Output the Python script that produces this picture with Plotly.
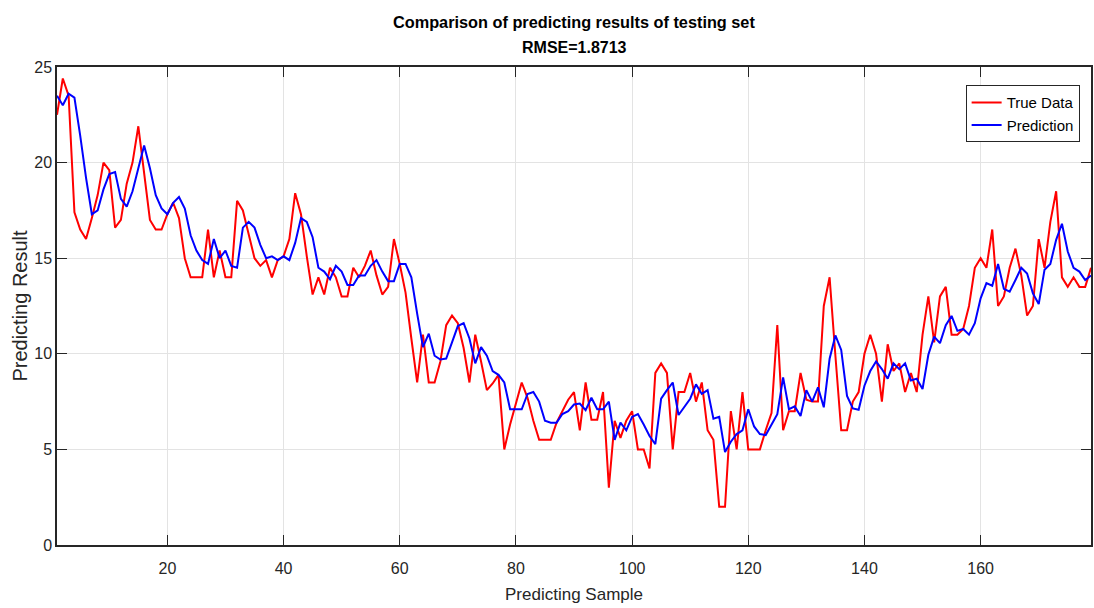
import plotly.graph_objects as go

# Test-set values and model output for each predicting sample
sample_idx = list(range(1, 180))

true_data = [
    22.5, 24.4, 23.5, 17.4, 16.5, 16.0, 17.1, 18.3, 20.0, 19.6,
    16.6, 17.0, 18.9, 20.0, 21.9, 19.5, 17.0, 16.5, 16.5, 17.3,
    17.9, 17.1, 15.0, 14.0, 14.0, 14.0, 16.5, 14.0, 15.4, 14.0,
    14.0, 18.0, 17.5, 16.3, 15.0, 14.6, 14.9, 14.0, 14.9, 15.1,
    16.0, 18.4, 17.3, 15.1, 13.1, 14.0, 13.1, 14.5, 14.0, 13.0,
    13.0, 14.5, 14.0, 14.6, 15.4, 14.1, 13.1, 13.5, 16.0, 14.7,
    13.2, 10.8, 8.5, 11.0, 8.5, 8.5, 9.6, 11.5, 12.0, 11.6,
    10.3, 8.5, 11.0, 9.6, 8.1, 8.45, 8.9, 5.0, 6.3, 7.4,
    8.5, 7.7, 6.5, 5.5, 5.5, 5.5, 6.4, 7.0, 7.6, 8.0,
    6.0, 8.5, 6.55, 6.55, 8.0, 3.0, 6.5, 5.6, 6.5, 7.0,
    5.0, 5.0, 4.0, 9.0, 9.5, 9.0, 5.0, 8.0, 8.0, 9.0,
    7.5, 8.5, 6.0, 5.5, 2.0, 2.0, 7.0, 5.0, 8.0, 5.0,
    5.0, 5.0, 6.0, 6.9, 11.5, 6.0, 7.0, 7.0, 9.0, 7.6,
    7.5, 7.5, 12.5, 14.0, 9.9, 6.0, 6.0, 7.5, 8.0, 10.0,
    11.0, 10.0, 7.5, 10.5, 9.1, 9.5, 8.0, 9.0, 8.0, 11.0,
    13.0, 10.6, 13.0, 13.5, 11.0, 11.0, 11.3, 12.5, 14.5, 15.0,
    14.5, 16.5, 12.5, 13.0, 14.5, 15.5, 14.1, 12.0, 12.5, 16.0,
    14.5, 16.9, 18.5, 14.0, 13.5, 14.0, 13.5, 13.5, 14.5,
]

prediction = [
    23.5, 23.0, 23.6, 23.4, 21.4, 19.2, 17.3, 17.5, 18.6, 19.4,
    19.5, 18.1, 17.7, 18.5, 19.7, 20.9, 19.7, 18.3, 17.6, 17.3,
    17.9, 18.2, 17.6, 16.2, 15.4, 14.9, 14.7, 16.0, 15.0, 15.4,
    14.6, 14.5, 16.6, 16.9, 16.6, 15.7, 15.0, 15.1, 14.9, 15.1,
    14.9, 15.8, 17.1, 16.9, 16.1, 14.5, 14.3, 13.9, 14.6, 14.3,
    13.6, 13.6, 14.1, 14.1, 14.6, 14.9, 14.3, 13.8, 13.8, 14.7,
    14.7, 14.0, 12.1, 10.35, 11.05, 9.9, 9.7, 9.75, 10.6, 11.45,
    11.6, 10.8, 9.5, 10.35, 9.9, 9.1, 8.9, 8.5, 7.1, 7.1,
    7.1, 7.9, 8.0, 7.5, 6.5, 6.4, 6.4, 6.85, 7.0, 7.35,
    7.4, 7.05, 7.7, 7.1, 7.1, 7.5, 5.5, 6.4, 6.0, 6.7,
    6.85, 6.3, 5.7, 5.27, 7.65, 8.1, 8.5, 6.8, 7.2, 7.65,
    8.4, 7.9, 8.1, 6.6, 6.7, 4.86, 5.4, 5.8, 6.0, 7.1,
    6.2, 5.8, 5.75, 6.3, 6.84, 8.77, 7.1, 7.25, 6.75, 8.1,
    7.5, 8.25, 7.2, 9.74, 10.96, 10.2, 7.8, 7.14, 7.07, 8.33,
    9.1, 9.6, 9.2, 8.7, 9.5, 9.2, 9.5, 8.6, 8.7, 8.16,
    9.95, 10.9, 10.56, 11.5, 11.98, 11.2, 11.3, 11.0, 11.6, 12.9,
    13.7, 13.56, 14.7, 13.4, 13.25, 13.86, 14.5, 14.2, 13.16, 12.6,
    14.4, 14.7, 15.96, 16.8, 15.35, 14.5, 14.3, 13.86, 14.1,
]

x_ticks = [20, 40, 60, 80, 100, 120, 140, 160]
y_ticks = [0, 5, 10, 15, 20, 25]
rmse_text = "RMSE=1.8713"

FONT = "Liberation Sans, Arial, Helvetica, sans-serif"
AXIS_COLOR = "#262626"
GRID_COLOR = "#e3e3e3"

fig = go.Figure()
fig.add_trace(go.Scatter(
    x=sample_idx, y=true_data, mode="lines", name="True Data",
    line=dict(color="#ff0000", width=2),
))
fig.add_trace(go.Scatter(
    x=sample_idx, y=prediction, mode="lines", name="Prediction",
    line=dict(color="#0000ff", width=2),
))

axis_common = dict(
    showline=True, linecolor=AXIS_COLOR, linewidth=1.5, mirror="ticks",
    ticks="inside", ticklen=10, tickcolor=AXIS_COLOR, tickwidth=1,
    showgrid=True, gridcolor=GRID_COLOR, gridwidth=1, zeroline=False,
    tickfont=dict(family=FONT, size=16, color=AXIS_COLOR),
)

fig.update_xaxes(
    range=[1, 179], tickmode="array", tickvals=x_ticks, ticklabelstandoff=8,
    title=dict(text="Predicting Sample", font=dict(family=FONT, size=17, color=AXIS_COLOR), standoff=12),
    **axis_common,
)
fig.update_yaxes(
    range=[0, 25], tickmode="array", tickvals=y_ticks,
    title=dict(text="Predicting Result", font=dict(family=FONT, size=20, color=AXIS_COLOR), standoff=1),
    **axis_common,
)

fig.add_annotation(
    text="<b>Comparison of predicting results of testing set</b>",
    xref="paper", yref="paper", x=0.5, y=1.0935, xanchor="center", yanchor="middle",
    showarrow=False, font=dict(family=FONT, size=16.3, color="#000000"),
)
fig.add_annotation(
    text="<b>" + rmse_text + "</b>",
    xref="paper", yref="paper", x=0.5, y=1.041, xanchor="center", yanchor="middle",
    showarrow=False, font=dict(family=FONT, size=16, color="#000000"),
)

fig.update_layout(
    width=1094, height=608,
    margin=dict(l=57, r=1, t=67, b=63),
    paper_bgcolor="white", plot_bgcolor="white",
    showlegend=True,
    legend=dict(
        x=0.989, y=0.962, xanchor="right", yanchor="top",
        bgcolor="white", bordercolor=AXIS_COLOR, borderwidth=1,
        font=dict(family=FONT, size=15, color="#000000"),
        tracegroupgap=0,
    ),
)

fig.write_html("out.html")
